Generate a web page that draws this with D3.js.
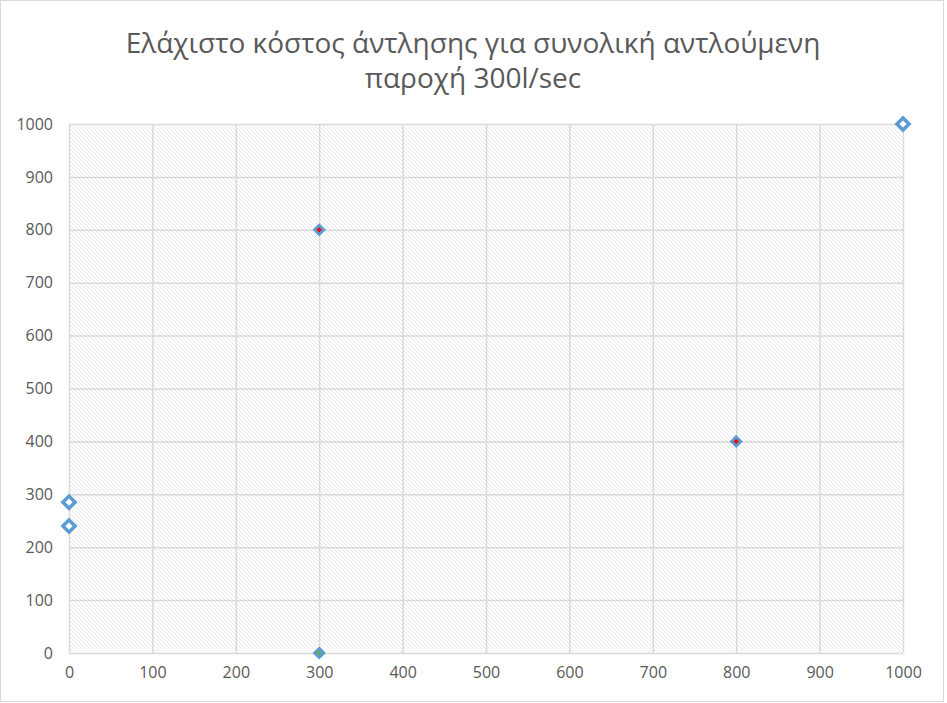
<!DOCTYPE html>
<html>
<head>
<meta charset="utf-8">
<script src="https://cdn.jsdelivr.net/npm/d3@7"></script>
<style>
  body { margin: 0; background: #fff; }
  text { font-family: "Open Sans", "DejaVu Sans", sans-serif; }
  .tick text { font-size: 16px; fill: #595959; font-family: "Open Sans", sans-serif; }
</style>
</head>
<body>
<div id="chart"></div>
<script>
// chart data
var titleLines = ["Ελάχιστο κόστος άντλησης για συνολική αντλούμενη", "παροχή 300l/sec"];
var xTicks = [0, 100, 200, 300, 400, 500, 600, 700, 800, 900, 1000];
var yTicks = [0, 100, 200, 300, 400, 500, 600, 700, 800, 900, 1000];

// open diamonds
var openX = [0, 0, 1000];
var openY = [285, 240, 1000];
// red-filled points
var redX = [300, 800];
var redY = [800, 400];
// green-filled point
var greenX = [300];
var greenY = [0];

var svgWidth = 947;
var svgHeight = 703;

var margin = { top: 124, right: 44, bottom: 50, left: 69 };
var width = 903 - margin.left;
var height = 653 - margin.top;

var svg = d3.select("#chart")
  .append("svg")
  .attr("width", svgWidth)
  .attr("height", svgHeight);

// outer chart border
svg.append("rect")
  .attr("x", 0.5).attr("y", 0.5)
  .attr("width", 943).attr("height", 701)
  .attr("fill", "#fff")
  .attr("stroke", "#d9d9d9");

// hatch pattern for the plot area
var defs = svg.append("defs");
var pat = defs.append("pattern")
  .attr("id", "hatch")
  .attr("patternUnits", "userSpaceOnUse")
  .attr("width", 4).attr("height", 4);
pat.append("rect").attr("width", 4).attr("height", 4).attr("fill", "#fff");
pat.append("path")
  .attr("d", "M-1,-1 L5,5 M-1,3 L1,5 M3,-1 L5,1")
  .attr("stroke", "#dcdcdc")
  .attr("stroke-width", 0.7);

// title
svg.append("g").selectAll("text")
  .data(titleLines)
  .enter()
  .append("text")
  .attr("x", 473)
  .attr("y", (d, i) => 53 + i * 35)
  .attr("text-anchor", "middle")
  .style("font-size", "28px")
  .attr("fill", "#595959")
  .text(d => d);

var chartGroup = svg.append("g")
  .attr("transform", `translate(${margin.left}, ${margin.top})`);

var xScale = d3.scaleLinear().domain([0, 1000]).range([0, width]);
var yScale = d3.scaleLinear().domain([0, 1000]).range([height, 0]);

chartGroup.append("rect")
  .attr("width", width)
  .attr("height", height)
  .attr("fill", "url(#hatch)");

// gridlines
chartGroup.append("g")
  .attr("class", "grid")
  .call(d3.axisLeft(yScale).tickValues(yTicks).tickSize(-width).tickFormat(""))
  .call(g => g.select(".domain").remove())
  .call(g => g.selectAll("line").attr("stroke", "#d9d9d9").attr("stroke-width", 1.5));

chartGroup.append("g")
  .attr("class", "grid")
  .attr("transform", `translate(0, ${height})`)
  .call(d3.axisBottom(xScale).tickValues(xTicks).tickSize(-height).tickFormat(""))
  .call(g => g.select(".domain").remove())
  .call(g => g.selectAll("line").attr("stroke", "#d9d9d9").attr("stroke-width", 1.5));

// tick labels
var yAxis = chartGroup.append("g")
  .call(d3.axisLeft(yScale).tickValues(yTicks).tickFormat(d3.format("d")).tickSize(0).tickPadding(16));
yAxis.select(".domain").remove();

var xAxis = chartGroup.append("g")
  .attr("transform", `translate(0, ${height})`)
  .call(d3.axisBottom(xScale).tickValues(xTicks).tickFormat(d3.format("d")).tickSize(0).tickPadding(14));
xAxis.select(".domain").remove();

// markers
function drawSeries(xs, ys, size, fill, sw) {
  var pts = xs.map((x, i) => ({ x: x, y: ys[i] }));
  chartGroup.append("g").selectAll("path")
    .data(pts)
    .enter()
    .append("path")
    .attr("d", d3.symbol().type(d3.symbolDiamond2).size(size))
    .attr("transform", d => `translate(${xScale(d.x)}, ${yScale(d.y)})`)
    .attr("fill", fill)
    .attr("stroke", "#5b9bd5")
    .attr("stroke-width", sw);
}

drawSeries(openX, openY, 95, "#fff", 3.5);
drawSeries(redX, redY, 55, "#ff0000", 2.8);
drawSeries(greenX, greenY, 55, "#70ad47", 2.8);
</script>
</body>
</html>
